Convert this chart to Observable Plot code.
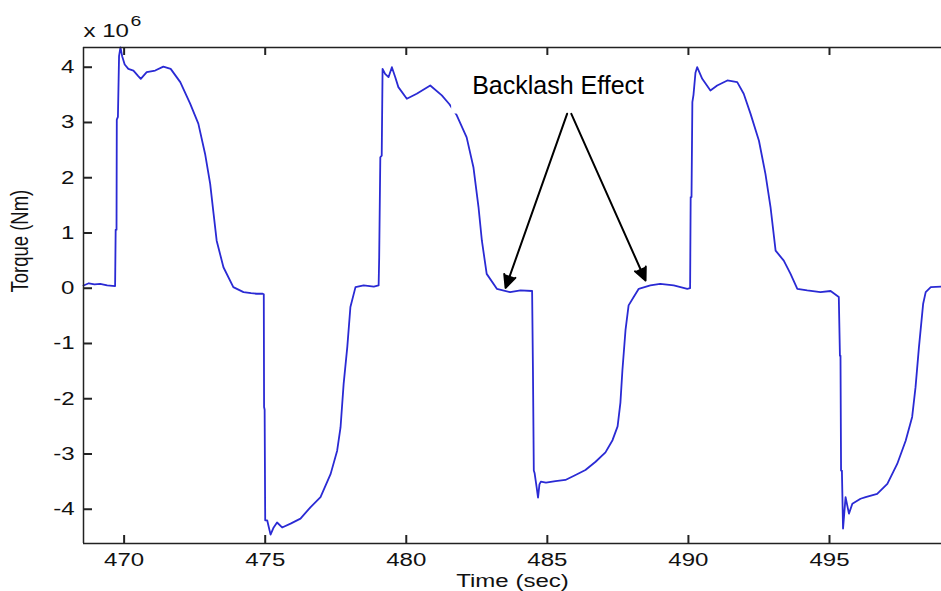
<!DOCTYPE html>
<html><head><meta charset="utf-8">
<script src="https://cdn.jsdelivr.net/npm/d3@7"></script>
<script src="https://cdn.jsdelivr.net/npm/@observablehq/plot@0.6"></script>
<style>html,body{margin:0;padding:0;background:#fff;}</style>
</head><body><div id="chart"></div>
<script>
// Time (sec)
const time = [
  468.56, 468.75, 468.95, 469.15, 469.40, 469.68, 469.70, 469.73, 469.74, 469.78, 469.82, 469.87, 469.93, 470.02,
  470.15, 470.33, 470.50, 470.59, 470.80, 471.10, 471.39, 471.65, 471.99, 472.34, 472.63, 472.87, 473.05, 473.17,
  473.28, 473.52, 473.87, 474.23, 474.50, 474.70, 474.91, 474.95, 474.96, 474.98, 475.00, 475.07, 475.19, 475.30,
  475.42, 475.60, 475.90, 476.25, 476.61, 476.96, 477.32, 477.55, 477.67, 477.78, 477.91, 478.02, 478.20, 478.49,
  478.85, 479.02, 479.04, 479.08, 479.13, 479.16, 479.25, 479.37, 479.49, 479.61, 479.72, 480.02, 480.37, 480.85,
  481.26, 481.53, 481.79, 482.14, 482.38, 482.56, 482.68, 482.85, 483.21, 483.68, 484.05, 484.46, 484.49, 484.52,
  484.55, 484.62, 484.67, 484.72, 484.77, 484.95, 485.29, 485.64, 486.00, 486.35, 486.71, 487.06, 487.31, 487.49,
  487.59, 487.66, 487.77, 487.88, 488.06, 488.24, 488.65, 489.00, 489.48, 489.96, 490.06, 490.08, 490.11, 490.14,
  490.18, 490.25, 490.31, 490.49, 490.78, 491.02, 491.38, 491.73, 491.96, 492.20, 492.50, 492.73, 492.91, 493.09,
  493.38, 493.62, 493.86, 494.21, 494.68, 495.04, 495.33, 495.37, 495.39, 495.41, 495.44, 495.48, 495.57, 495.69,
  495.81, 496.10, 496.28, 496.69, 497.05, 497.40, 497.70, 497.93, 498.05, 498.17, 498.32, 498.41, 498.59, 498.97
];
// Torque (x 10^6 Nm)
const torque = [
  0.05, 0.09, 0.07, 0.08, 0.05, 0.04, 1.06, 1.06, 3.05, 3.10, 4.20, 4.36, 4.20, 4.05,
  3.97, 3.94, 3.84, 3.79, 3.91, 3.94, 4.01, 3.97, 3.73, 3.34, 2.98, 2.43, 1.89, 1.35,
  0.86, 0.38, 0.02, -0.07, -0.09, -0.10, -0.10, -0.11, -2.15, -2.20, -4.20, -4.20, -4.46, -4.33,
  -4.24, -4.33, -4.26, -4.17, -3.96, -3.78, -3.36, -2.94, -2.52, -1.73, -1.06, -0.34, 0.02, 0.05,
  0.03, 0.05, 0.56, 2.37, 2.40, 3.97, 3.88, 3.82, 4.00, 3.82, 3.64, 3.43, 3.52, 3.67,
  3.49, 3.33, 3.13, 2.73, 2.19, 1.47, 0.86, 0.26, -0.01, -0.07, -0.04, -0.05, -1.50, -3.30,
  -3.35, -3.60, -3.79, -3.55, -3.50, -3.52, -3.49, -3.47, -3.38, -3.29, -3.14, -2.97, -2.75, -2.50,
  -2.07, -1.49, -0.76, -0.31, -0.16, -0.01, 0.05, 0.08, 0.05, -0.01, 0.00, 1.65, 1.65, 3.37,
  3.50, 3.90, 4.00, 3.79, 3.58, 3.67, 3.76, 3.73, 3.52, 3.16, 2.67, 2.07, 1.47, 0.68,
  0.50, 0.26, -0.01, -0.04, -0.07, -0.05, -0.16, -1.22, -1.22, -3.30, -3.30, -4.35, -3.78, -4.08,
  -3.90, -3.81, -3.78, -3.72, -3.54, -3.18, -2.76, -2.33, -1.79, -1.07, -0.28, -0.07, 0.02, 0.03
];
const xTicks = [470, 475, 480, 485, 490, 495];
const yTicks = [-4, -3, -2, -1, 0, 1, 2, 3, 4];
const xDomain = [468.56, 498.97];
const yDomain = [-4.62, 4.357];

const xLabel = ["Time (sec)"];
const yLabel = ["Torque (Nm)"];
const exponentBase = ["x 10"];
const exponentPower = ["6"];

const annotationText = ["Backlash Effect"];
const annotationX = [485.38];
const annotationY = [3.669];
const arrowFromX = [485.70, 485.85];
const arrowFromY = [3.157, 3.157];
const arrowToX = [483.52, 488.48];
const arrowToY = [0.007, 0.14];

const W = 941, H = 591, ML = 83, MR = 0, MT = 47, MB = 48;
const data = time.map((t, i) => ({t, v: torque[i]}));
const font = "'Liberation Sans', Arial, Helvetica, sans-serif";
const axisColor = "#222";
const plainNumber = d => String(d);
// inward tick length, converted from pixels to data units
const xPerPx = (xDomain[1] - xDomain[0]) / (W - ML - MR);
const yPerPx = (yDomain[1] - yDomain[0]) / (H - MT - MB);
const tickX = 8 * yPerPx, tickY = 9 * xPerPx;

const chart = Plot.plot({
  width: W, height: H,
  marginLeft: ML, marginRight: MR, marginTop: MT, marginBottom: MB,
  style: {fontFamily: font, fontSize: "18.5px", color: "#111", background: "#fff", overflow: "visible"},
  x: {domain: xDomain, ticks: xTicks},
  y: {domain: yDomain, ticks: yTicks},
  marks: [
    Plot.line(data, {x: "t", y: "v", stroke: "#2a2ad4", strokeWidth: 1.8}),
    // tick labels
    Plot.axisX(xTicks, {anchor: "bottom", tickSize: 0, tickPadding: 9, tickFormat: plainNumber, label: null}),
    Plot.axisY(yTicks, {anchor: "left", tickSize: 0, tickPadding: 9, tickFormat: plainNumber, label: null}),
    Plot.text(yLabel, {text: d => d, frameAnchor: "left", rotate: -90, dx: -63, dy: -3, fontSize: 18.5, fill: "#111"}),
    Plot.text(xLabel, {text: d => d, frameAnchor: "bottom", lineAnchor: "top", dy: 30, fontSize: 18.5, fill: "#111"}),
    Plot.text(exponentBase, {text: d => d, frameAnchor: "top-left", textAnchor: "start", lineAnchor: "top", dy: -24, fontSize: 18.5, fill: "#111"}),
    Plot.text(exponentPower, {text: d => d, frameAnchor: "top-left", textAnchor: "start", lineAnchor: "top", dx: 47, dy: -32, fontSize: 15, fill: "#111"}),
    Plot.text(annotationText, {text: d => d, x: annotationX, y: annotationY, fontSize: 25, fill: "#000", lineAnchor: "middle"}),
    Plot.arrow(arrowFromX, {x1: arrowFromX, y1: arrowFromY, x2: arrowToX, y2: arrowToY,
      stroke: "#000", fill: "#000", strokeWidth: 2, headLength: 10.5, headAngle: 50}),
    // axes box (top, bottom, left)
    Plot.ruleY([yDomain[1]], {stroke: axisColor, strokeWidth: 1.5}),
    Plot.ruleY([yDomain[0]], {stroke: axisColor, strokeWidth: 1.5}),
    Plot.ruleX([xDomain[0]], {stroke: axisColor, strokeWidth: 1.5}),
    // inward tick marks (bottom, top, left)
    Plot.ruleX(xTicks, {x: d => d, y1: yDomain[0], y2: yDomain[0] + tickX, stroke: axisColor, strokeWidth: 2}),
    Plot.ruleX(xTicks, {x: d => d, y1: yDomain[1], y2: yDomain[1] - tickX, stroke: axisColor, strokeWidth: 2}),
    Plot.ruleY(yTicks, {y: d => d, x1: xDomain[0], x2: xDomain[0] + tickY, stroke: axisColor, strokeWidth: 2})
  ]
});
document.getElementById("chart").append(chart);

// MATLAB-exported text appears horizontally stretched
const stretch = 1.3;
chart.querySelectorAll("text").forEach(el => {
  if (el.textContent === annotationText[0]) return;
  const tr = el.getAttribute("transform");
  if (tr) {
    el.setAttribute("transform", tr + (tr.includes("rotate") ? ` scale(1,${stretch})` : ` scale(${stretch},1)`));
  } else {
    const x = +(el.getAttribute("x") || 0), y = +(el.getAttribute("y") || 0);
    el.setAttribute("transform", `translate(${x},${y}) scale(${stretch},1) translate(${-x},${-y})`);
  }
});

// White text box behind the annotation (as in the original figure)
const svgRect = chart.getBoundingClientRect();
chart.querySelectorAll("text").forEach(el => {
  if (el.textContent !== annotationText[0]) return;
  const r = el.getBoundingClientRect();
  const rect = document.createElementNS("http://www.w3.org/2000/svg", "rect");
  rect.setAttribute("x", r.left - svgRect.left - 21);
  rect.setAttribute("y", r.top - svgRect.top - 20);
  rect.setAttribute("width", r.width + 42);
  rect.setAttribute("height", r.height + 35);
  rect.setAttribute("fill", "#fff");
  let g = el;
  while (g.parentNode !== chart) g = g.parentNode;
  chart.insertBefore(rect, g);
});
</script>
</body></html>
